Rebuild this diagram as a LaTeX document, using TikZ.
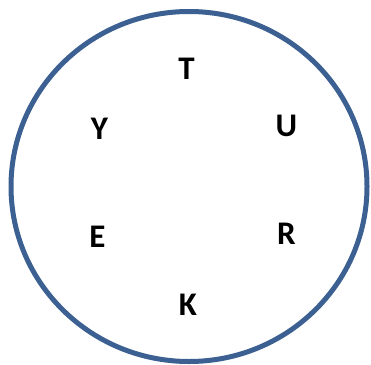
\documentclass[tikz,border=0pt]{standalone}
\usepackage{fontspec}
\setmainfont{Carlito}
\usetikzlibrary{positioning}
\definecolor{ringblue}{RGB}{60,96,145}

\tikzset{
  letter/.style={font=\bfseries\fontsize{33}{33}\selectfont, inner sep=0pt},
  ring/.style={draw=ringblue, line width=5pt}
}

\begin{document}
\begin{tikzpicture}[x=1pt, y=-1pt]
  \useasboundingbox (0,0) rectangle (371,364);
  \draw[ring] (189,186.5) ellipse [x radius=178, y radius=175];
  % letters round the ring
  \node[letter] (t) at (186.5,69) {T};
  \node[letter] (u) at (286.5,126) {U};
  \node[letter] (r) at (286.5,234) {R};
  \node[letter] (k) at (188,304.5) {K};
  \node[letter] (e) at (97.5,236.5) {E};
  \node[letter] (y) at (99.5,129) {Y};
\end{tikzpicture}
\end{document}
